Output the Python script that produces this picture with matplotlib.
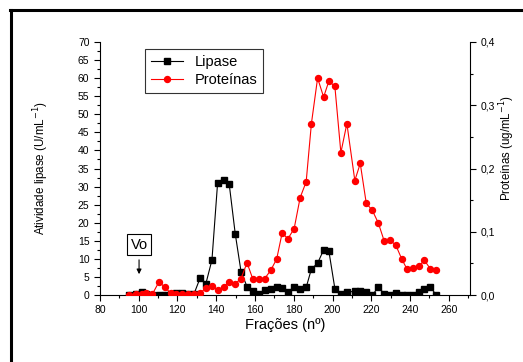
import matplotlib
matplotlib.use("Agg")
import matplotlib.pyplot as plt
from matplotlib.ticker import MultipleLocator, FuncFormatter
from matplotlib.lines import Line2D

plt.rcParams['font.family'] = ['Liberation Sans', 'DejaVu Sans']

# dados
fracoes = [95.0, 98.4, 101.6, 104.0, 107.0, 110.5, 113.6, 116.5, 119.4, 122.6,
           125.7, 128.6, 131.7, 134.6, 137.8, 140.7, 143.8, 146.7, 149.8, 152.8,
           155.9, 158.8, 161.9, 165.0, 168.1, 171.2, 174.0, 177.0, 180.2, 183.3,
           186.4, 189.1, 192.3, 195.4, 198.1, 201.2, 204.3, 207.4, 211.5, 214.3,
           217.4, 220.5, 223.6, 226.7, 229.5, 232.6, 235.7, 238.4, 241.5, 244.6,
           247.4, 250.5, 253.6]
lipase = [0.0, 0.2, 0.9, 0.3, 0.1, 0.0, 0.0, 0.3, 0.5, 0.6,
          0.4, 0.4, 4.7, 3.0, 9.7, 30.9, 31.8, 30.7, 17.0, 6.5,
          2.3, 1.2, 0.3, 1.3, 1.8, 2.3, 1.9, 0.8, 2.3, 1.7,
          2.1, 7.2, 8.8, 12.5, 12.2, 1.8, 0.4, 0.7, 1.1, 1.2,
          0.8, 0.0, 2.1, 0.4, 0.0, 0.6, 0.0, 0.0, 0.0, 0.8,
          1.8, 2.1, 0.0]
proteinas = [0.000, 0.002, 0.002, 0.003, 0.001, 0.021, 0.012, 0.003, 0.002, 0.001,
             0.001, 0.001, 0.003, 0.011, 0.014, 0.008, 0.013, 0.021, 0.018, 0.026,
             0.051, 0.026, 0.026, 0.026, 0.039, 0.057, 0.098, 0.089, 0.105, 0.154,
             0.179, 0.271, 0.343, 0.313, 0.338, 0.330, 0.225, 0.271, 0.181, 0.208,
             0.145, 0.134, 0.114, 0.085, 0.087, 0.079, 0.057, 0.041, 0.043, 0.046,
             0.055, 0.041, 0.039]

fig = plt.figure(figsize=(5.23, 3.62), dpi=100)
ax = fig.add_axes([0.191, 0.185, 0.708, 0.699])
ax2 = ax.twinx()

l1, = ax.plot(fracoes, lipase, color='black', marker='s', markersize=4, linewidth=0.8, label='Lipase')
l2, = ax2.plot(fracoes, proteinas, color='red', marker='o', markersize=4.3, linewidth=0.8, label='Proteínas')

ax.set_xlim(80, 271)
ax.set_ylim(0, 70)
ax2.set_ylim(0, 0.4)

ax.xaxis.set_major_locator(MultipleLocator(20))
ax.xaxis.set_minor_locator(MultipleLocator(10))
ax.yaxis.set_major_locator(MultipleLocator(5))
ax.yaxis.set_minor_locator(MultipleLocator(2.5))
ax2.yaxis.set_major_locator(MultipleLocator(0.1))
ax2.yaxis.set_minor_locator(MultipleLocator(0.05))
ax2.yaxis.set_major_formatter(FuncFormatter(lambda v, p: ('%.1f' % v).replace('.', ',')))

for a in (ax, ax2):
    a.spines['top'].set_visible(False)
    a.tick_params(which='major', length=4, width=0.8, labelsize=7.5, direction='out')
    a.tick_params(which='minor', length=2, width=0.8, direction='out')
ax.spines['right'].set_visible(False)
ax2.spines['left'].set_visible(False)
ax2.spines['bottom'].set_visible(False)

ax.set_xlabel('Frações (nº)', fontsize=10.5, labelpad=2)
ax.set_ylabel('Atividade lipase (U/mL$^{-1}$)', fontsize=8.4)
ax.yaxis.set_label_coords(-0.133, 0.5)
ax2.set_ylabel('Proteínas (ug/mL$^{-1}$)', fontsize=8.3)
ax2.yaxis.set_label_coords(1.073, 0.58)

leg = ax.legend(handles=[l1, l2], loc='upper left', bbox_to_anchor=(0.122, 0.972),
                borderaxespad=0, fontsize=10.5, frameon=True, fancybox=False,
                edgecolor='black', handlelength=2.2, borderpad=0.4, labelspacing=0.3)
leg.get_frame().set_linewidth(0.8)

# marcador Vo
ax.annotate('', xy=(100.2, 5.0), xytext=(100.2, 10.5),
            arrowprops=dict(arrowstyle='-|>', color='black', lw=0.8, mutation_scale=7))
ax.text(100.2, 13.9, 'Vo', fontsize=10.5, ha='center', va='center',
        bbox=dict(boxstyle='square,pad=0.25', facecolor='white', edgecolor='black', linewidth=0.8))

# moldura externa
fig.add_artist(Line2D([0.021, 0.021], [0.0, 0.972], transform=fig.transFigure, color='black', linewidth=2.2))
fig.add_artist(Line2D([0.019, 1.0], [0.972, 0.972], transform=fig.transFigure, color='black', linewidth=2.2))

plt.savefig('out.png', dpi=100)
